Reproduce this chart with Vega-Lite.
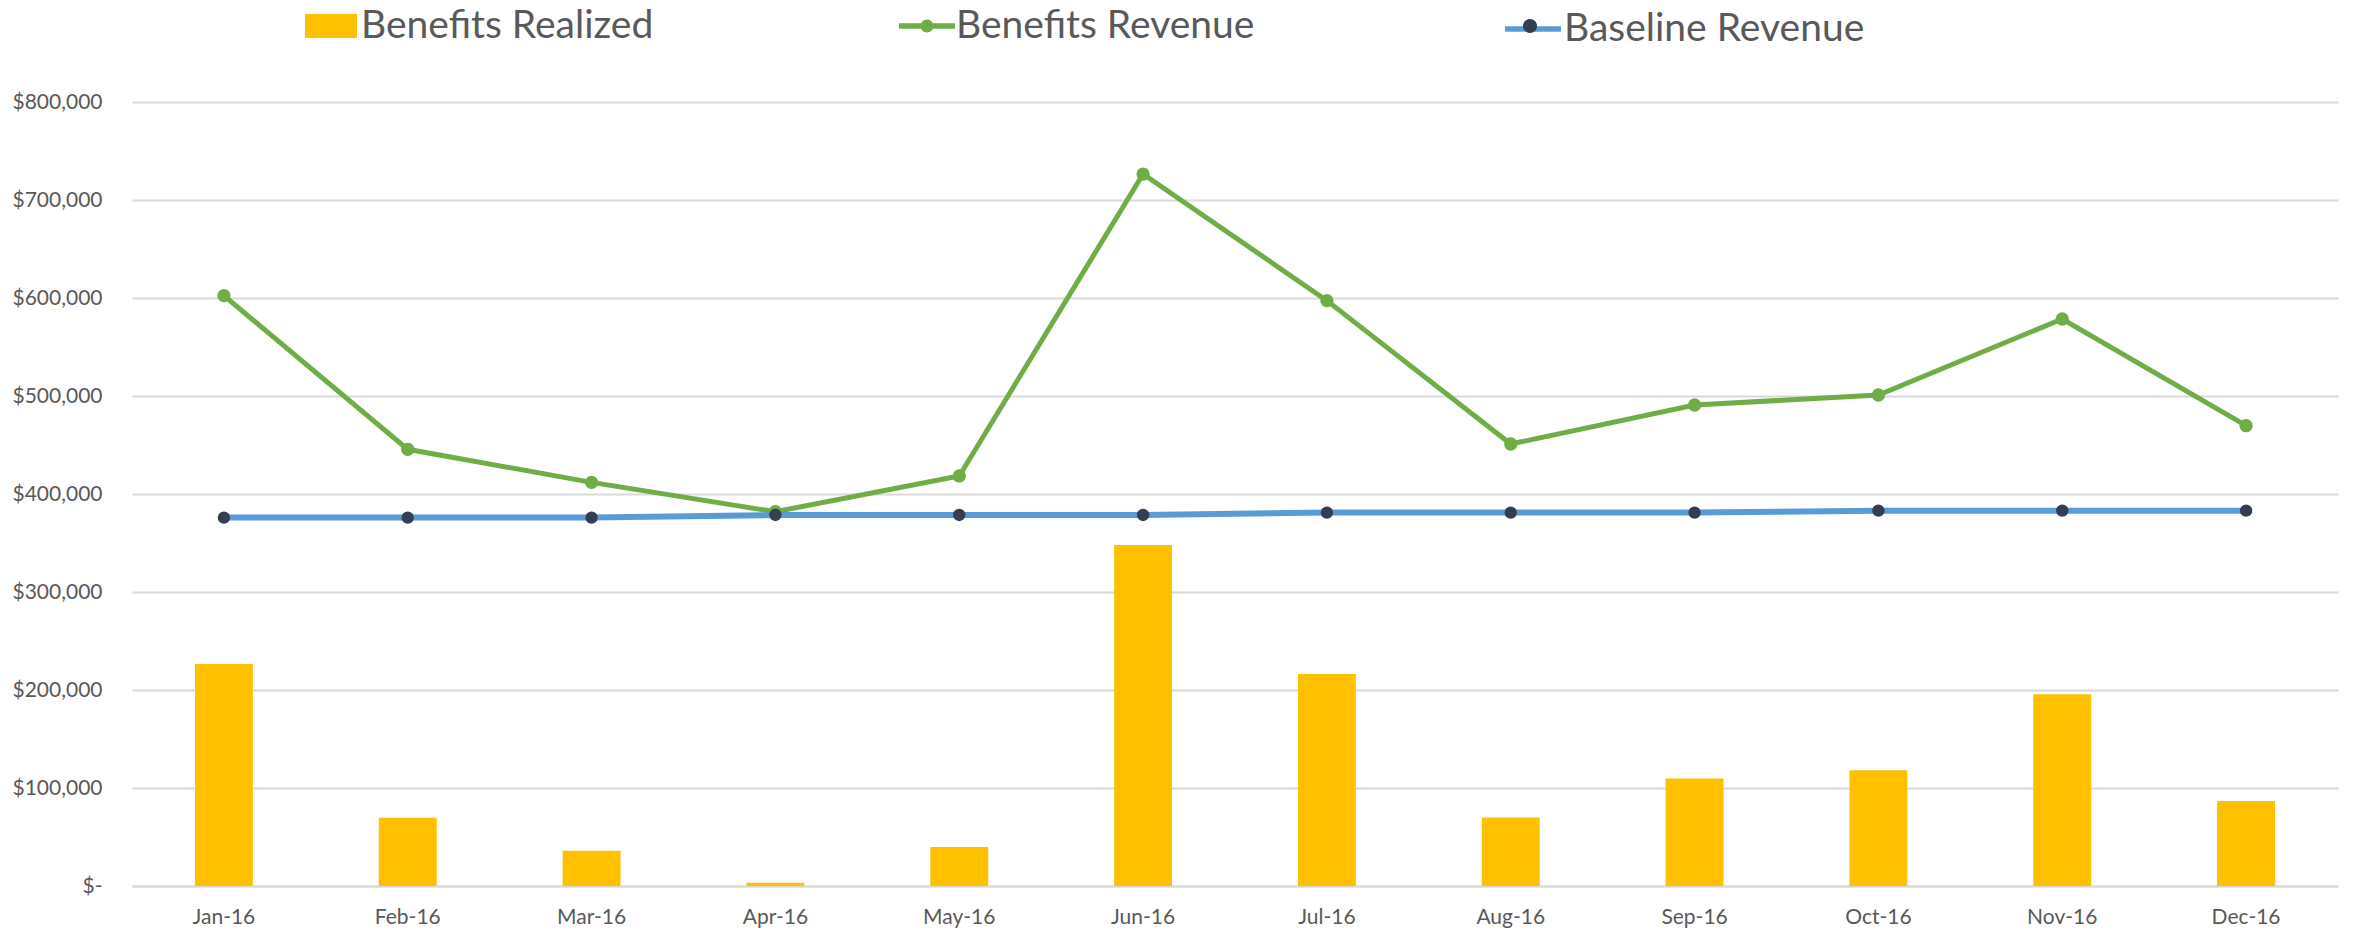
{
  "$schema": "https://vega.github.io/schema/vega-lite/v6.json",
  "width": 2206,
  "height": 784,
  "autosize": {"type": "none"},
  "padding": {"left": 132, "top": 102, "right": 20, "bottom": 47},
  "background": "white",
  "config": {
    "font": "Lato",
    "view": {"stroke": null},
    "legend": {"padding": 0, "offset": 0, "labelFont": "Lato", "labelFontSize": 39, "labelColor": "#595959", "labelLimit": 0, "titlePadding": 0}
  },
  "data": {
    "values": [
      {"month": "Jan-16", "series": "Benefits Realized", "value": 226500},
      {"month": "Feb-16", "series": "Benefits Realized", "value": 69700},
      {"month": "Mar-16", "series": "Benefits Realized", "value": 36000},
      {"month": "Apr-16", "series": "Benefits Realized", "value": 3300},
      {"month": "May-16", "series": "Benefits Realized", "value": 39800},
      {"month": "Jun-16", "series": "Benefits Realized", "value": 347900},
      {"month": "Jul-16", "series": "Benefits Realized", "value": 216300},
      {"month": "Aug-16", "series": "Benefits Realized", "value": 70000},
      {"month": "Sep-16", "series": "Benefits Realized", "value": 109800},
      {"month": "Oct-16", "series": "Benefits Realized", "value": 118000},
      {"month": "Nov-16", "series": "Benefits Realized", "value": 195600},
      {"month": "Dec-16", "series": "Benefits Realized", "value": 86700},
      {"month": "Jan-16", "series": "Benefits Revenue", "value": 602400},
      {"month": "Feb-16", "series": "Benefits Revenue", "value": 445600},
      {"month": "Mar-16", "series": "Benefits Revenue", "value": 411900},
      {"month": "Apr-16", "series": "Benefits Revenue", "value": 381900},
      {"month": "May-16", "series": "Benefits Revenue", "value": 418400},
      {"month": "Jun-16", "series": "Benefits Revenue", "value": 726500},
      {"month": "Jul-16", "series": "Benefits Revenue", "value": 597300},
      {"month": "Aug-16", "series": "Benefits Revenue", "value": 451000},
      {"month": "Sep-16", "series": "Benefits Revenue", "value": 490800},
      {"month": "Oct-16", "series": "Benefits Revenue", "value": 501000},
      {"month": "Nov-16", "series": "Benefits Revenue", "value": 578600},
      {"month": "Dec-16", "series": "Benefits Revenue", "value": 469700},
      {"month": "Jan-16", "series": "Baseline Revenue", "value": 375900},
      {"month": "Feb-16", "series": "Baseline Revenue", "value": 375900},
      {"month": "Mar-16", "series": "Baseline Revenue", "value": 375900},
      {"month": "Apr-16", "series": "Baseline Revenue", "value": 378600},
      {"month": "May-16", "series": "Baseline Revenue", "value": 378600},
      {"month": "Jun-16", "series": "Baseline Revenue", "value": 378600},
      {"month": "Jul-16", "series": "Baseline Revenue", "value": 381000},
      {"month": "Aug-16", "series": "Baseline Revenue", "value": 381000},
      {"month": "Sep-16", "series": "Baseline Revenue", "value": 381000},
      {"month": "Oct-16", "series": "Baseline Revenue", "value": 383000},
      {"month": "Nov-16", "series": "Baseline Revenue", "value": 383000},
      {"month": "Dec-16", "series": "Baseline Revenue", "value": 383000}
    ]
  },
  "encoding": {
    "x": {
      "field": "month",
      "type": "nominal",
      "sort": ["Jan-16", "Feb-16", "Mar-16", "Apr-16", "May-16", "Jun-16", "Jul-16", "Aug-16", "Sep-16", "Oct-16", "Nov-16", "Dec-16"],
      "scale": {"paddingInner": 0.685, "paddingOuter": 0.3425},
      "axis": {
        "title": null,
        "labelAngle": 0,
        "ticks": false,
        "domain": true,
        "domainColor": "#D9D9D9",
        "domainWidth": 2,
        "labelFont": "Lato",
        "labelFontSize": 21,
        "labelColor": "#595959",
        "labelPadding": 20,
        "grid": false
      }
    },
    "y": {
      "field": "value",
      "type": "quantitative",
      "scale": {"domain": [0, 800000], "nice": false},
      "axis": {
        "title": null,
        "values": [0, 100000, 200000, 300000, 400000, 500000, 600000, 700000, 800000],
        "labelExpr": "datum.value == 0 ? '$-\u00a0\u00a0' : '$' + format(datum.value, ',')",
        "domain": false,
        "ticks": false,
        "grid": true,
        "gridColor": "#D9D9D9",
        "gridWidth": 2,
        "labelFont": "Lato",
        "labelFontSize": 21,
        "labelColor": "#595959",
        "labelPadding": 30
      }
    }
  },
  "layer": [
    {
      "transform": [{"filter": "datum.series === 'Benefits Realized'"}],
      "mark": {"type": "bar"},
      "encoding": {
        "color": {
          "field": "series",
          "type": "nominal",
          "scale": {"range": ["#FFC000"]},
          "legend": {
            "title": null,
            "orient": "none",
            "legendX": 173,
            "legendY": -102,
            "symbolType": "M-1,-0.4615H1V0.4615H-1Z",
            "symbolSize": 2704,
            "symbolStrokeWidth": 0,
            "labelOffset": 4
          }
        }
      }
    },
    {
      "transform": [{"filter": "datum.series === 'Benefits Revenue'"}],
      "mark": {"type": "line", "color": "#70AD47", "strokeWidth": 5},
      "encoding": {}
    },
    {
      "transform": [{"filter": "datum.series === 'Benefits Revenue'"}],
      "mark": {"type": "point", "filled": true, "size": 177, "opacity": 1},
      "encoding": {
        "color": {
          "field": "series",
          "type": "nominal",
          "scale": {"range": ["#70AD47"]},
          "legend": {
            "title": null,
            "orient": "none",
            "legendX": 767,
            "legendY": -104,
            "symbolType": "M-1,-0.095H1V0.095H-1Z M0.232,0A0.232,0.232 0 1,1 -0.232,0A0.232,0.232 0 1,1 0.232,0Z",
            "symbolSize": 3136,
            "symbolStrokeWidth": 0,
            "symbolOpacity": 1,
            "labelOffset": 1
          }
        }
      }
    },
    {
      "transform": [{"filter": "datum.series === 'Baseline Revenue'"}],
      "mark": {"type": "line", "strokeWidth": 6},
      "encoding": {
        "color": {
          "field": "series",
          "type": "nominal",
          "scale": {"range": ["#5B9BD5"]},
          "legend": {
            "title": null,
            "orient": "none",
            "legendX": 1370,
            "legendY": -104,
            "symbolType": "stroke",
            "symbolSize": 3136,
            "symbolStrokeWidth": 5.5,
            "labelOffset": 0
          }
        }
      }
    },
    {
      "transform": [{"filter": "datum.series === 'Baseline Revenue'"}],
      "mark": {"type": "point", "filled": true, "size": 154, "opacity": 1},
      "encoding": {
        "color": {
          "field": "series",
          "type": "nominal",
          "scale": {"range": ["#333F50"]},
          "legend": {
            "title": null,
            "orient": "none",
            "legendX": 1370,
            "legendY": -104,
            "symbolType": "M0.25,0A0.25,0.25 0 1,1 -0.25,0A0.25,0.25 0 1,1 0.25,0Z",
            "symbolSize": 3136,
            "symbolStrokeWidth": 0,
            "symbolOpacity": 1,
            "labelExpr": "''"
          }
        }
      }
    }
  ],
  "resolve": {"scale": {"color": "independent"}, "legend": {"color": "independent"}}
}
